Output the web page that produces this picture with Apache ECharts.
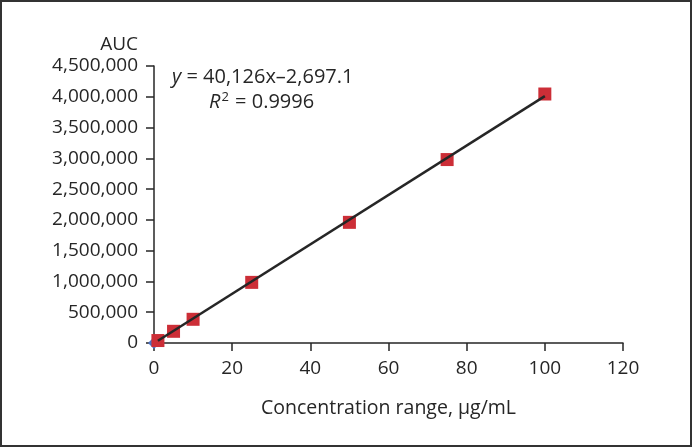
<!DOCTYPE html>
<html>
<head>
<meta charset="utf-8">
<script src="https://cdn.jsdelivr.net/npm/echarts@6/dist/echarts.min.js"></script>
<style>
html,body{margin:0;padding:0;background:#fff;}
#chart{width:692px;height:447px;}
</style>
</head>
<body>
<div id="chart"></div>
<script>
// Data
const concentrations = [1, 5, 10, 25, 50, 75, 100];
const aucValues = [40000, 190000, 385000, 985000, 1960000, 2980000, 4045000];
const blankPoint = [[0, 0]];
const fitSlope = 40126;
const fitIntercept = -2697.1;
const fitRange = [1, 100];
const yTicks = [0, 500000, 1000000, 1500000, 2000000, 2500000, 3000000, 3500000, 4000000, 4500000];
const xTicks = [0, 20, 40, 60, 80, 100, 120];
const equationText = ' = 40,126x–2,697.1';
const r2Text = ' = 0.9996';

const FONT = 'Open Sans';
const TXT = '#262626';

const scatterData = concentrations.map((c, i) => [c, aucValues[i]]);
const fitLine = fitRange.map(x => [x, fitSlope * x + fitIntercept]);

const chart = echarts.init(document.getElementById('chart'));
chart.setOption({
  animation: false,
  backgroundColor: '#fff',
  grid: {left: 154, right: 69, top: 66, bottom: 104, containLabel: false},
  xAxis: {
    type: 'value', min: xTicks[0], max: xTicks[xTicks.length - 1], interval: 20,
    name: 'Concentration range, μg/mL', nameLocation: 'middle', nameGap: 55,
    nameTextStyle: {fontFamily: FONT, fontSize: 19.5, color: TXT},
    axisLine: {lineStyle: {color: TXT, width: 1.5}},
    axisTick: {length: 8, lineStyle: {color: TXT, width: 1.5}},
    axisLabel: {fontFamily: FONT, fontSize: 19, color: TXT, margin: 16},
    splitLine: {show: false}
  },
  yAxis: {
    type: 'value', min: yTicks[0], max: yTicks[yTicks.length - 1], interval: 500000,
    name: 'AUC', nameLocation: 'end', nameGap: 12,
    nameTextStyle: {fontFamily: FONT, fontSize: 19, color: TXT, align: 'right', padding: [0, 16, 0, 0]},
    axisLine: {lineStyle: {color: TXT, width: 1.5}},
    axisTick: {length: 8, lineStyle: {color: TXT, width: 1.5}},
    axisLabel: {fontFamily: FONT, fontSize: 19, color: TXT, margin: 16,
      formatter: v => v.toLocaleString('en-US')},
    splitLine: {show: false}
  },
  graphic: [
    {type: 'rect', silent: true, z: 100,
     shape: {x: 1, y: 1, width: 690, height: 445},
     style: {fill: 'none', stroke: '#333', lineWidth: 2}},
    {type: 'text', left: 172, top: 67, z: 50,
     style: {
       text: '{i|y}{n|' + equationText + '}',
       rich: {
         i: {fontStyle: 'italic', fontFamily: FONT, fontSize: 20, fill: TXT},
         n: {fontFamily: FONT, fontSize: 20, fill: TXT}
       },
       fill: TXT
     }},
    {type: 'text', left: 209, top: 91, z: 50,
     style: {
       text: '{i|R}{s|2}{n|' + r2Text + '}',
       rich: {
         i: {fontStyle: 'italic', fontFamily: FONT, fontSize: 20, fill: TXT},
         s: {fontFamily: FONT, fontSize: 13, fill: TXT, padding: [0, 1, 9, 1]},
         n: {fontFamily: FONT, fontSize: 20, fill: TXT}
       },
       fill: TXT
     }}
  ],
  series: [
    {type: 'scatter', data: blankPoint, symbol: 'diamond', symbolSize: 12,
     itemStyle: {color: '#4a72c4', opacity: 1}, z: 1},
    {type: 'line', data: fitLine, showSymbol: false, symbol: 'none',
     lineStyle: {color: '#262626', width: 2.5}, z: 3},
    {type: 'scatter', data: scatterData, symbol: 'rect', symbolSize: 13,
     itemStyle: {color: '#cc2e37', opacity: 1}, z: 2}
  ]
});
</script>
</body>
</html>
